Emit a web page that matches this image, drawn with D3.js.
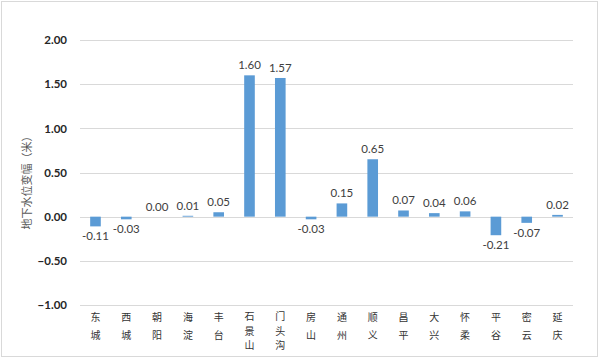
<!DOCTYPE html>
<html><head><meta charset="utf-8">
<script src="https://cdn.jsdelivr.net/npm/d3@7"></script>
<style>body{margin:0;background:#fff}svg{display:block}</style>
</head><body>
<svg id="c" width="600" height="359"></svg>
<script>
const districts = ["东城","西城","朝阳","海淀","丰台","石景山","门头沟","房山","通州","顺义","昌平","大兴","怀柔","平谷","密云","延庆"];
const values = [-0.11,-0.03,0.00,0.01,0.05,1.60,1.57,-0.03,0.15,0.65,0.07,0.04,0.06,-0.21,-0.07,0.02];
const yTicks = [-1,-0.5,0,0.5,1,1.5,2];
const yTitle = "地下水位变幅（米）";

const svg = d3.select("#c");
svg.append("rect").attr("x",1.5).attr("y",1.5).attr("width",596).attr("height",355)
  .attr("fill","#fff").attr("stroke","#d9d9d9").attr("stroke-width",1);

const x = d3.scaleBand().domain(districts).range([80,573]).paddingInner(0.655).paddingOuter(0.33);
const y = d3.scaleLinear().domain([-1,2]).range([305,40]);

// gridlines
svg.append("g").selectAll("line").data(yTicks).join("line")
  .attr("x1",80).attr("x2",573)
  .attr("y1",d=>Math.round(y(d))+0.5).attr("y2",d=>Math.round(y(d))+0.5)
  .attr("stroke","#d9d9d9").attr("stroke-width",1);

// y axis labels
const yAxis = d3.axisLeft(y).tickValues(yTicks).tickFormat(d3.format(".2f")).tickSize(0).tickPadding(0);
const ya = svg.append("g").attr("transform","translate(67,0)").call(yAxis);
ya.select(".domain").remove();
ya.selectAll("text").attr("font-family","Lato, 'Liberation Sans', sans-serif")
  .attr("font-weight","bold").attr("font-size","11.5px").attr("fill","#262626");

// bars
svg.append("g").selectAll("rect").data(values).join("rect")
  .attr("x",(d,i)=>x(districts[i]))
  .attr("width",x.bandwidth())
  .attr("y",d=>Math.min(y(d),y(0)))
  .attr("height",d=>Math.abs(y(d)-y(0)))
  .attr("fill","#5b9bd5");

// data labels
svg.append("g").selectAll("text").data(values).join("text")
  .attr("x",(d,i)=>x(districts[i])+x.bandwidth()/2)
  .attr("y",d=> d>=0 ? y(d)-6 : y(d)+14)
  .attr("text-anchor","middle")
  .attr("font-family","Lato, 'Liberation Sans', sans-serif")
  .attr("font-size","11.5px").attr("fill","#404040")
  .text(d=>d3.format(".2f")(d).replace("−","-"));

// category labels (vertical stacked)
const cat = svg.append("g").selectAll("text").data(districts).join("text")
  .attr("text-anchor","middle")
  .attr("font-family","'Noto Sans CJK SC', sans-serif")
  .attr("font-size","10px").attr("fill","#333333");
cat.each(function(d){
  const chars = Array.from(d);
  const step = chars.length>2 ? 14.6 : 18;
  const cx = x(d)+x.bandwidth()/2;
  d3.select(this).selectAll("tspan").data(chars).join("tspan")
    .attr("x",cx).attr("y",(c,j)=>(chars.length>2?320:321)+j*step).text(c=>c);
});

// y title
svg.append("text").attr("transform","translate(31,180) rotate(-90)")
  .attr("text-anchor","middle")
  .attr("font-family","'Noto Sans CJK SC', sans-serif")
  .attr("font-size","11px").attr("fill","#595959")
  .text(yTitle);
</script>
</body></html>
